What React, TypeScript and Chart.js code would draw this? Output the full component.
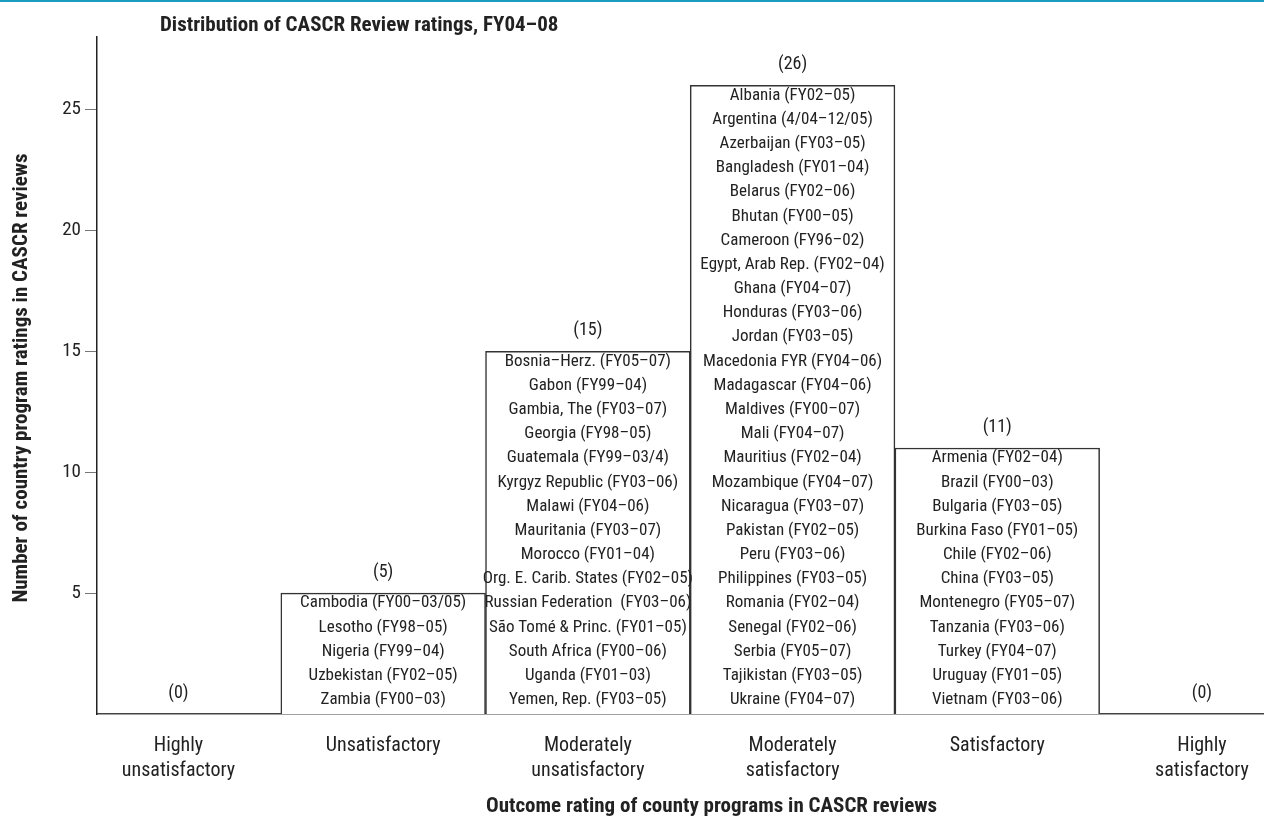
import React, { useEffect, useRef } from "react";
import { Chart, registerables } from "chart.js";

Chart.register(...registerables);

const chartTitle = "Distribution of CASCR Review ratings, FY04–08";
const xAxisTitle = "Outcome rating of county programs in CASCR reviews";
const yAxisTitle = "Number of country program ratings in CASCR reviews";

const categoryLabels: string[][] = [
  ["Highly", "unsatisfactory"],
  ["Unsatisfactory"],
  ["Moderately", "unsatisfactory"],
  ["Moderately", "satisfactory"],
  ["Satisfactory"],
  ["Highly", "satisfactory"],
];

const ratingCounts = [0, 5, 15, 26, 11, 0];

const yTickValues = [5, 10, 15, 20, 25];

const highlyUnsatisfactory: string[] = [];
const unsatisfactory = [
  "Cambodia (FY00–03/05)",
  "Lesotho (FY98–05)",
  "Nigeria (FY99–04)",
  "Uzbekistan (FY02–05)",
  "Zambia (FY00–03)",
];
const moderatelyUnsatisfactory = [
  "Bosnia–Herz. (FY05–07)",
  "Gabon (FY99–04)",
  "Gambia, The (FY03–07)",
  "Georgia (FY98–05)",
  "Guatemala (FY99–03/4)",
  "Kyrgyz Republic (FY03–06)",
  "Malawi (FY04–06)",
  "Mauritania (FY03–07)",
  "Morocco (FY01–04)",
  "Org. E. Carib. States (FY02–05)",
  "Russian Federation  (FY03–06)",
  "São Tomé & Princ. (FY01–05)",
  "South Africa (FY00–06)",
  "Uganda (FY01–03)",
  "Yemen, Rep. (FY03–05)",
];
const moderatelySatisfactory = [
  "Albania (FY02–05)",
  "Argentina (4/04–12/05)",
  "Azerbaijan (FY03–05)",
  "Bangladesh (FY01–04)",
  "Belarus (FY02–06)",
  "Bhutan (FY00–05)",
  "Cameroon (FY96–02)",
  "Egypt, Arab Rep. (FY02–04)",
  "Ghana (FY04–07)",
  "Honduras (FY03–06)",
  "Jordan (FY03–05)",
  "Macedonia FYR (FY04–06)",
  "Madagascar (FY04–06)",
  "Maldives (FY00–07)",
  "Mali (FY04–07)",
  "Mauritius (FY02–04)",
  "Mozambique (FY04–07)",
  "Nicaragua (FY03–07)",
  "Pakistan (FY02–05)",
  "Peru (FY03–06)",
  "Philippines (FY03–05)",
  "Romania (FY02–04)",
  "Senegal (FY02–06)",
  "Serbia (FY05–07)",
  "Tajikistan (FY03–05)",
  "Ukraine (FY04–07)",
];
const satisfactory = [
  "Armenia (FY02–04)",
  "Brazil (FY00–03)",
  "Bulgaria (FY03–05)",
  "Burkina Faso (FY01–05)",
  "Chile (FY02–06)",
  "China (FY03–05)",
  "Montenegro (FY05–07)",
  "Tanzania (FY03–06)",
  "Turkey (FY04–07)",
  "Uruguay (FY01–05)",
  "Vietnam (FY03–06)",
];
const highlySatisfactory: string[] = [];

const countryLists = [
  highlyUnsatisfactory,
  unsatisfactory,
  moderatelyUnsatisfactory,
  moderatelySatisfactory,
  satisfactory,
  highlySatisfactory,
];

const FONT = "'Liberation Sans Narrow', 'Roboto Condensed', 'DejaVu Sans Condensed', 'Liberation Sans', sans-serif";
const TEXT = "#222222";

const annotationPlugin = {
  id: "annotations",
  afterDatasetsDraw(chart: any) {
    const ctx = chart.ctx;
    const yScale = chart.scales.y;
    const meta = chart.getDatasetMeta(0);
    ctx.save();
    ctx.fillStyle = TEXT;
    ctx.textAlign = "center";
    ctx.textBaseline = "middle";
    meta.data.forEach((bar: any, i: number) => {
      const count = ratingCounts[i];
      ctx.font = `17px ${FONT}`;
      countryLists[i].forEach((name, j) => {
        const y = yScale.getPixelForValue(count - 0.5 - j) - 2;
        ctx.fillText(name, bar.x, y);
      });
      ctx.font = `18px ${FONT}`;
      ctx.fillText(`(${count})`, bar.x, yScale.getPixelForValue(count) - 21);
    });
    ctx.restore();
  },
  afterDraw(chart: any) {
    const ctx = chart.ctx;
    ctx.save();
    ctx.fillStyle = "#1a9cbf";
    ctx.fillRect(0, 0, chart.width, 2);
    ctx.fillStyle = TEXT;
    ctx.font = `bold 21px ${FONT}`;
    ctx.textBaseline = "middle";
    ctx.textAlign = "left";
    ctx.fillText(chartTitle, 160, 26);
    ctx.fillText(xAxisTitle, 486, 807);
    ctx.translate(22, 378);
    ctx.rotate(-Math.PI / 2);
    ctx.textAlign = "center";
    ctx.fillText(yAxisTitle, 0, 0);
    ctx.restore();
  },
};

export default function App() {
  const canvasRef = useRef<HTMLCanvasElement | null>(null);

  useEffect(() => {
    if (!canvasRef.current) return;
    const chart = new Chart(canvasRef.current, {
      type: "bar",
      data: {
        datasets: [
          {
            data: ratingCounts.map((c, i) => ({ x: i, y: c })) as any,
            backgroundColor: "#ffffff",
            borderColor: "#333333",
            borderWidth: 1.5,
            barPercentage: 1,
            categoryPercentage: 1,
          },
        ],
      },
      options: {
        animation: false,
        responsive: false,
        events: [],
        layout: { padding: { top: 37, left: 0, right: 0, bottom: 0 } },
        plugins: {
          legend: { display: false },
          tooltip: { enabled: false },
          title: { display: false },
        },
        scales: {
          x: {
            type: "linear",
            offset: false,
            min: -0.398,
            max: 5.303,
            afterBuildTicks: (scale: any) => {
              scale.ticks = categoryLabels.map((_, i) => ({ value: i }));
            },
            afterFit: (scale: any) => {
              scale.height = 111;
              scale.paddingLeft = 0;
              scale.paddingRight = 0;
            },
            grid: { display: false },
            border: { display: true, color: "#444444", width: 1.5 },
            ticks: {
              autoSkip: false,
              maxRotation: 0,
              padding: 11,
              color: TEXT,
              font: { family: FONT, size: 20, lineHeight: 1.25 },
              callback: (value: any) => categoryLabels[value] ?? "",
            },
          },
          y: {
            min: 0,
            max: 28,
            afterBuildTicks: (scale: any) => {
              scale.ticks = yTickValues.map((v) => ({ value: v }));
            },
            afterFit: (scale: any) => {
              scale.width = 97;
              scale.paddingTop = 0;
              scale.paddingBottom = 0;
            },
            grid: {
              display: true,
              drawOnChartArea: false,
              drawTicks: true,
              tickLength: 12,
              color: "#777777",
              lineWidth: 1,
            },
            border: { display: true, color: "#222222", width: 1.5 },
            ticks: {
              padding: 4,
              color: TEXT,
              font: { family: FONT, size: 19 },
            },
          },
        },
      },
      plugins: [annotationPlugin],
    } as any);
    return () => chart.destroy();
  }, []);

  return (
    <div style={{ position: "fixed", left: 0, top: 0, width: 1264, height: 825, background: "#ffffff" }}>
      <canvas ref={canvasRef} width={1264} height={825} style={{ width: 1264, height: 825, display: "block" }} />
    </div>
  );
}
